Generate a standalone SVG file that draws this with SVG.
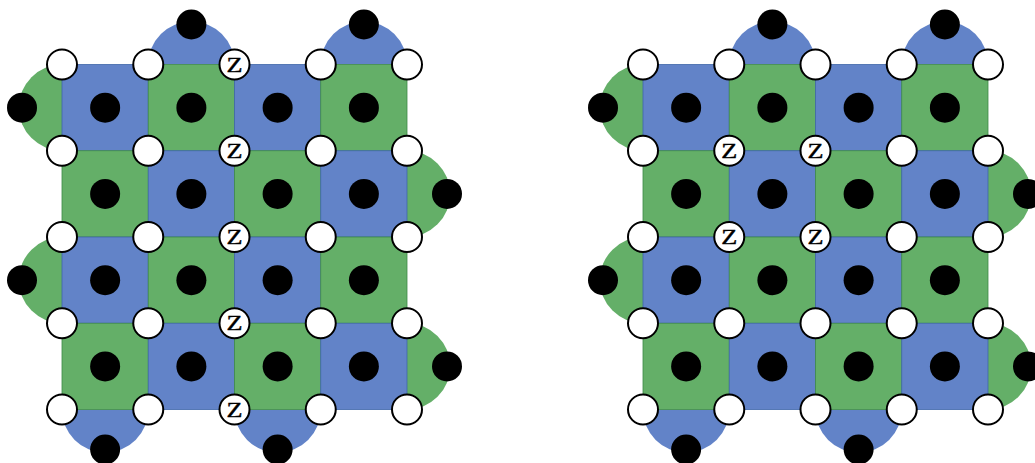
<svg xmlns="http://www.w3.org/2000/svg" width="1035" height="463" viewBox="0 0 1035 463">
  <style>
    .b { fill: #6283c8; stroke: #3f67a8; stroke-width: 0.8; }
    .g { fill: #64af68; stroke: #3d8a48; stroke-width: 0.8; }
    .bb { fill: #6283c8; }
    .gb { fill: #64af68; }
    .anc { fill: #000; }
    .q { fill: #fff; stroke: #000; stroke-width: 2; }
    .z { font-family: "Liberation Serif", "DejaVu Serif", serif; font-size: 21px; text-anchor: middle; fill: #000; stroke: #000; stroke-width: 0.4; }
  </style>
  <defs>
    <!-- 4x4 checkerboard of plaquettes with boundary half-discs and their ancilla dots -->
    <g id="faces">
      <path class="bb" d="M86.25 0 A43.125 43.125 0 0 1 172.5 0 Z"/>
      <path class="bb" d="M258.75 0 A43.125 43.125 0 0 1 345 0 Z"/>
      <path class="gb" d="M0 86.25 A43.125 43.125 0 0 1 0 0 Z"/>
      <path class="gb" d="M0 258.75 A43.125 43.125 0 0 1 0 172.5 Z"/>
      <path class="gb" d="M345 86.25 A43.125 43.125 0 0 1 345 172.5 Z"/>
      <path class="gb" d="M345 258.75 A43.125 43.125 0 0 1 345 345 Z"/>
      <path class="bb" d="M86.25 345 A43.125 43.125 0 0 1 0 345 Z"/>
      <path class="bb" d="M258.75 345 A43.125 43.125 0 0 1 172.5 345 Z"/>

      <rect class="b" x="0" y="0" width="86.25" height="86.25"/>
      <rect class="g" x="86.25" y="0" width="86.25" height="86.25"/>
      <rect class="b" x="172.5" y="0" width="86.25" height="86.25"/>
      <rect class="g" x="258.75" y="0" width="86.25" height="86.25"/>
      <rect class="g" x="0" y="86.25" width="86.25" height="86.25"/>
      <rect class="b" x="86.25" y="86.25" width="86.25" height="86.25"/>
      <rect class="g" x="172.5" y="86.25" width="86.25" height="86.25"/>
      <rect class="b" x="258.75" y="86.25" width="86.25" height="86.25"/>
      <rect class="b" x="0" y="172.5" width="86.25" height="86.25"/>
      <rect class="g" x="86.25" y="172.5" width="86.25" height="86.25"/>
      <rect class="b" x="172.5" y="172.5" width="86.25" height="86.25"/>
      <rect class="g" x="258.75" y="172.5" width="86.25" height="86.25"/>
      <rect class="g" x="0" y="258.75" width="86.25" height="86.25"/>
      <rect class="b" x="86.25" y="258.75" width="86.25" height="86.25"/>
      <rect class="g" x="172.5" y="258.75" width="86.25" height="86.25"/>
      <rect class="b" x="258.75" y="258.75" width="86.25" height="86.25"/>

      <!-- ancilla qubits -->
      <circle class="anc" cx="43.125" cy="43.125" r="15"/>
      <circle class="anc" cx="129.375" cy="43.125" r="15"/>
      <circle class="anc" cx="215.625" cy="43.125" r="15"/>
      <circle class="anc" cx="301.875" cy="43.125" r="15"/>
      <circle class="anc" cx="43.125" cy="129.375" r="15"/>
      <circle class="anc" cx="129.375" cy="129.375" r="15"/>
      <circle class="anc" cx="215.625" cy="129.375" r="15"/>
      <circle class="anc" cx="301.875" cy="129.375" r="15"/>
      <circle class="anc" cx="43.125" cy="215.625" r="15"/>
      <circle class="anc" cx="129.375" cy="215.625" r="15"/>
      <circle class="anc" cx="215.625" cy="215.625" r="15"/>
      <circle class="anc" cx="301.875" cy="215.625" r="15"/>
      <circle class="anc" cx="43.125" cy="301.875" r="15"/>
      <circle class="anc" cx="129.375" cy="301.875" r="15"/>
      <circle class="anc" cx="215.625" cy="301.875" r="15"/>
      <circle class="anc" cx="301.875" cy="301.875" r="15"/>
      <circle class="anc" cx="129.375" cy="-40" r="15"/>
      <circle class="anc" cx="301.875" cy="-40" r="15"/>
      <circle class="anc" cx="-40" cy="43.125" r="15"/>
      <circle class="anc" cx="-40" cy="215.625" r="15"/>
      <circle class="anc" cx="385" cy="129.375" r="15"/>
      <circle class="anc" cx="385" cy="301.875" r="15"/>
      <circle class="anc" cx="43.125" cy="385" r="15"/>
      <circle class="anc" cx="215.625" cy="385" r="15"/>
    </g>
    <circle id="qb" class="q" r="15"/>
  </defs>

  <!-- left patch: Z on the middle column of data qubits -->
  <g id="patch-left" transform="translate(62 64.5)">
    <use href="#faces"/>
    <g id="data-left">
      <use href="#qb" x="0" y="0"/><use href="#qb" x="86.25" y="0"/><use href="#qb" x="172.5" y="0"/><use href="#qb" x="258.75" y="0"/><use href="#qb" x="345" y="0"/>
      <use href="#qb" x="0" y="86.25"/><use href="#qb" x="86.25" y="86.25"/><use href="#qb" x="172.5" y="86.25"/><use href="#qb" x="258.75" y="86.25"/><use href="#qb" x="345" y="86.25"/>
      <use href="#qb" x="0" y="172.5"/><use href="#qb" x="86.25" y="172.5"/><use href="#qb" x="172.5" y="172.5"/><use href="#qb" x="258.75" y="172.5"/><use href="#qb" x="345" y="172.5"/>
      <use href="#qb" x="0" y="258.75"/><use href="#qb" x="86.25" y="258.75"/><use href="#qb" x="172.5" y="258.75"/><use href="#qb" x="258.75" y="258.75"/><use href="#qb" x="345" y="258.75"/>
      <use href="#qb" x="0" y="345"/><use href="#qb" x="86.25" y="345"/><use href="#qb" x="172.5" y="345"/><use href="#qb" x="258.75" y="345"/><use href="#qb" x="345" y="345"/>
    </g>
    <g id="z-left">
      <text class="z" x="172.5" y="7" textLength="16" lengthAdjust="spacingAndGlyphs">Z</text>
      <text class="z" x="172.5" y="93.25" textLength="16" lengthAdjust="spacingAndGlyphs">Z</text>
      <text class="z" x="172.5" y="179.5" textLength="16" lengthAdjust="spacingAndGlyphs">Z</text>
      <text class="z" x="172.5" y="265.75" textLength="16" lengthAdjust="spacingAndGlyphs">Z</text>
      <text class="z" x="172.5" y="352" textLength="16" lengthAdjust="spacingAndGlyphs">Z</text>
    </g>
  </g>

  <!-- right patch: Z on a 2x2 block of data qubits -->
  <g id="patch-right" transform="translate(643 64.5)">
    <use href="#faces"/>
    <g id="data-right">
      <use href="#qb" x="0" y="0"/><use href="#qb" x="86.25" y="0"/><use href="#qb" x="172.5" y="0"/><use href="#qb" x="258.75" y="0"/><use href="#qb" x="345" y="0"/>
      <use href="#qb" x="0" y="86.25"/><use href="#qb" x="86.25" y="86.25"/><use href="#qb" x="172.5" y="86.25"/><use href="#qb" x="258.75" y="86.25"/><use href="#qb" x="345" y="86.25"/>
      <use href="#qb" x="0" y="172.5"/><use href="#qb" x="86.25" y="172.5"/><use href="#qb" x="172.5" y="172.5"/><use href="#qb" x="258.75" y="172.5"/><use href="#qb" x="345" y="172.5"/>
      <use href="#qb" x="0" y="258.75"/><use href="#qb" x="86.25" y="258.75"/><use href="#qb" x="172.5" y="258.75"/><use href="#qb" x="258.75" y="258.75"/><use href="#qb" x="345" y="258.75"/>
      <use href="#qb" x="0" y="345"/><use href="#qb" x="86.25" y="345"/><use href="#qb" x="172.5" y="345"/><use href="#qb" x="258.75" y="345"/><use href="#qb" x="345" y="345"/>
    </g>
    <g id="z-right">
      <text class="z" x="86.25" y="93.25" textLength="16" lengthAdjust="spacingAndGlyphs">Z</text>
      <text class="z" x="172.5" y="93.25" textLength="16" lengthAdjust="spacingAndGlyphs">Z</text>
      <text class="z" x="86.25" y="179.5" textLength="16" lengthAdjust="spacingAndGlyphs">Z</text>
      <text class="z" x="172.5" y="179.5" textLength="16" lengthAdjust="spacingAndGlyphs">Z</text>
    </g>
  </g>
</svg>
